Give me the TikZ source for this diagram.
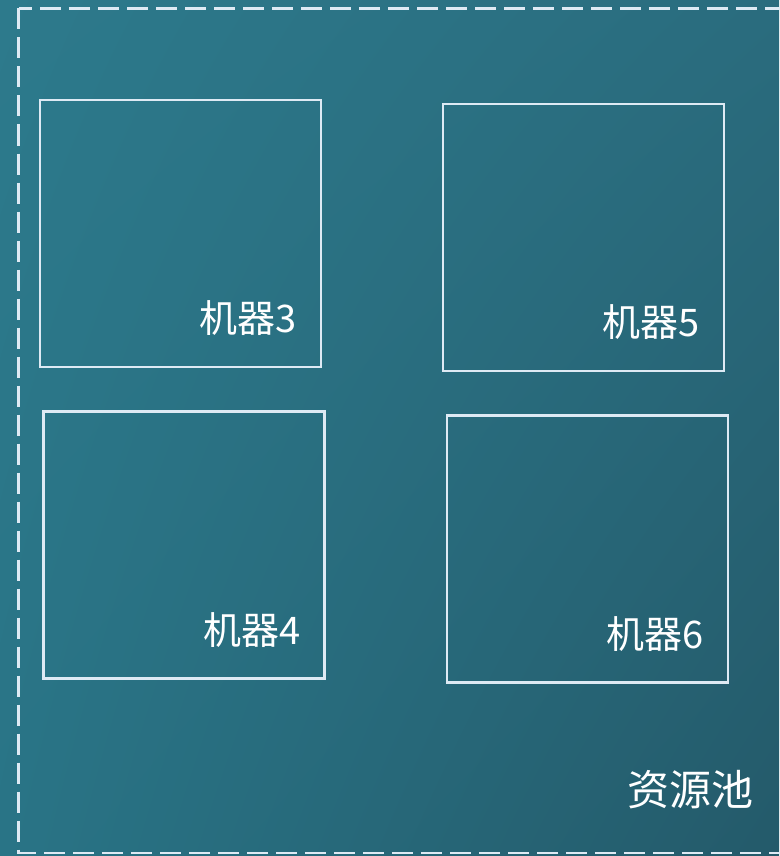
\documentclass[tikz,border=0pt]{standalone}
\usepackage{fontspec}
\newfontfamily\cjk{Noto Sans CJK SC}
\usepackage{tikz}
\usetikzlibrary{positioning,shadings}
\definecolor{bgul}{RGB}{45,122,140}
\definecolor{bgur}{RGB}{42,108,126}
\definecolor{bgll}{RGB}{41,116,134}
\definecolor{bglr}{RGB}{36,90,106}
\definecolor{edgecol}{RGB}{222,234,244}

\begin{document}
\begin{tikzpicture}[x=1pt,y=-1pt]
                \tikzset{machine/.style = {draw=edgecol,line width=2.4pt,minimum width=281pt,minimum height=267pt,inner sep=0pt}}
                \tikzset{tag/.style = {text=white,font=\cjk\fontsize{38}{40}\selectfont,inner sep=0pt}}
                \tikzset{pool/.style = {draw=edgecol,line width=2.4pt,dash pattern=on 21pt off 8pt}}
                % background
                \useasboundingbox (0,0) rectangle (779,856);
                \shade[upper left=bgul,upper right=bgur,lower left=bgll,lower right=bglr] (0,0) rectangle (779,856);
                % resource pool
                \coordinate (poolnw) at (18.5,8.5);
                \coordinate (poolse) at (790,853);
                \draw[pool] (poolnw) rectangle (poolse);
                \node[tag,font=\cjk\fontsize{42}{46}\selectfont] (pool) at (690,790) {资源池};
                % machines
                \node[machine] (m3) at (180.5,233.5) {};
                \node[machine] (m5) at (583.5,237.5) {};
                \node[machine] (m4) at (184,545) {};
                \node[machine] (m6) at (587.5,549) {};
                % labels
                \node[tag] (l3) at (248.5,318) {机器3};
                \node[tag] (l5) at (651.5,322) {机器5};
                \node[tag] (l4) at (252.5,630) {机器4};
                \node[tag] (l6) at (655.5,634) {机器6};
            \end{tikzpicture}
\end{document}
